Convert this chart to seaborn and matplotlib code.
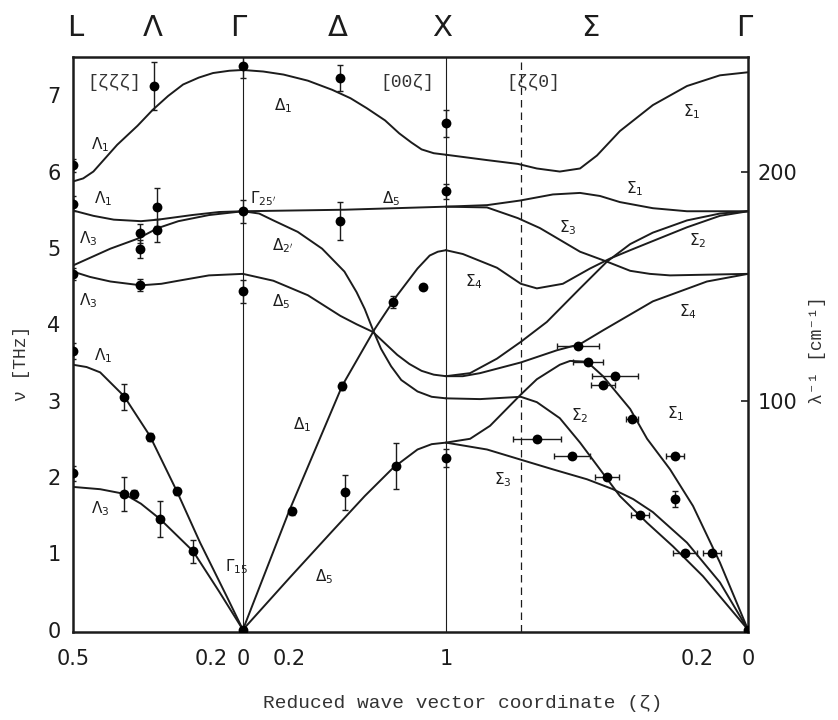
import numpy as np
import pandas as pd
import matplotlib
matplotlib.use("Agg")
import matplotlib.pyplot as plt
import matplotlib.transforms as mtransforms
import seaborn as sns

# --- layout of the composite wave-vector axis (Gamma-X has length 1) ---
LAM_SCALE = 1.674    # axis length per unit zeta along [zzz]
SIG_SCALE = 1.488    # axis length per unit zeta along [zz0]
K_ZETA = 0.75        # dashed line on the [zz0] segment
THZ_TO_CM = 33.356

# --- dispersion curves: zeta and frequency (THz) ---
# [zzz] direction, L (0.5) -> Gamma (0)
lam_lo_z = [0.5, 0.47, 0.44, 0.37, 0.31, 0.265, 0.22, 0.176, 0.13, 0.088, 0.04, 0]
lam_lo_v = [5.87, 5.91, 6.0, 6.35, 6.6, 6.81, 6.99, 7.14, 7.23, 7.29, 7.32, 7.33]
lam_r1_z = [0.5, 0.44, 0.38, 0.3, 0.25, 0.15, 0.07, 0]
lam_r1_v = [5.49, 5.42, 5.37, 5.35, 5.37, 5.43, 5.47, 5.48]
lam_r3_z = [0.5, 0.45, 0.39, 0.31, 0.25, 0.19, 0.1, 0]
lam_r3_v = [4.77, 4.87, 4.99, 5.12, 5.26, 5.35, 5.43, 5.48]
lam_to_z = [0.5, 0.45, 0.39, 0.3, 0.24, 0.19, 0.1, 0]
lam_to_v = [4.69, 4.62, 4.56, 4.51, 4.53, 4.57, 4.64, 4.66]
lam_la_z = [0.5, 0.46, 0.42, 0.35, 0.274, 0.194, 0.126, 0.047, 0]
lam_la_v = [3.47, 3.44, 3.37, 3.06, 2.54, 1.81, 1.14, 0.43, 0]
lam_ta_z = [0.5, 0.42, 0.35, 0.3, 0.244, 0.147, 0.07, 0]
lam_ta_v = [1.87, 1.84, 1.78, 1.65, 1.45, 1.03, 0.5, 0]

# [00z] direction, Gamma (0) -> X (1)
del_lo_z = [0, 0.1, 0.2, 0.32, 0.44, 0.53, 0.61, 0.7, 0.77, 0.83, 0.88, 0.94, 1]
del_lo_v = [7.33, 7.31, 7.27, 7.19, 7.07, 6.96, 6.83, 6.67, 6.5, 6.38, 6.29, 6.24, 6.22]
del_r5_z = [0, 0.25, 0.5, 0.75, 1]
del_r5_v = [5.48, 5.49, 5.5, 5.52, 5.54]
del_r2_z = [0, 0.08, 0.15, 0.27, 0.39, 0.5, 0.56, 0.6, 0.64, 0.68, 0.73, 0.78, 0.86, 0.93, 1]
del_r2_v = [5.48, 5.45, 5.36, 5.21, 4.99, 4.69, 4.42, 4.2, 3.93, 3.68, 3.45, 3.27, 3.12, 3.05, 3.03]
del_to_z = [0, 0.15, 0.32, 0.48, 0.56, 0.64, 0.7, 0.76, 0.82, 0.88, 0.94, 1]
del_to_v = [4.66, 4.57, 4.38, 4.11, 4.0, 3.9, 3.75, 3.6, 3.48, 3.39, 3.34, 3.32]
del_la_z = [0, 0.227, 0.49, 0.65, 0.76, 0.86, 0.92, 0.96, 1]
del_la_v = [0, 1.55, 3.2, 3.94, 4.38, 4.73, 4.9, 4.95, 4.97]
del_ta_z = [0, 0.23, 0.44, 0.6, 0.74, 0.86, 0.93, 1]
del_ta_v = [0, 0.68, 1.29, 1.75, 2.12, 2.36, 2.43, 2.45]

# [zz0] direction, X (1) -> Gamma (0)
sig_lo_z = [1, 0.864, 0.762, 0.699, 0.623, 0.556, 0.5, 0.424, 0.315, 0.202, 0.093, 0]
sig_lo_v = [6.22, 6.15, 6.1, 6.04, 6.0, 6.04, 6.21, 6.53, 6.87, 7.12, 7.26, 7.3]
sig_h1_z = [1, 0.864, 0.755, 0.646, 0.556, 0.49, 0.424, 0.315, 0.202, 0]
sig_h1_v = [5.54, 5.56, 5.62, 5.7, 5.72, 5.68, 5.6, 5.52, 5.48, 5.48]
sig_h3_z = [1, 0.864, 0.762, 0.689, 0.646, 0.556, 0.467, 0.39, 0.325, 0.258, 0]
sig_h3_v = [5.54, 5.53, 5.39, 5.26, 5.16, 4.95, 4.82, 4.7, 4.66, 4.64, 4.66]
sig_u4_z = [1, 0.944, 0.831, 0.752, 0.699, 0.613, 0.523, 0.457, 0.39, 0.315, 0.202, 0.093, 0]
sig_u4_v = [4.97, 4.92, 4.74, 4.53, 4.47, 4.53, 4.73, 4.86, 4.97, 5.09, 5.27, 5.42, 5.48]
sig_u2_z = [1, 0.92, 0.831, 0.752, 0.666, 0.556, 0.467, 0.39, 0.315, 0.202, 0.093, 0]
sig_u2_v = [3.32, 3.36, 3.55, 3.77, 4.03, 4.47, 4.82, 5.05, 5.2, 5.36, 5.45, 5.48]
sig_l4_z = [1, 0.944, 0.887, 0.752, 0.632, 0.556, 0.48, 0.315, 0.136, 0]
sig_l4_v = [3.32, 3.32, 3.36, 3.5, 3.66, 3.74, 3.92, 4.3, 4.56, 4.66]
sig_a2_z = [1, 0.887, 0.752, 0.699, 0.623, 0.556, 0.49, 0.424, 0.334, 0.248, 0.149, 0]
sig_a2_v = [3.03, 3.02, 3.05, 2.98, 2.77, 2.45, 2.1, 1.75, 1.4, 1.09, 0.7, 0]
sig_a1_z = [1, 0.92, 0.854, 0.752, 0.699, 0.623, 0.589, 0.533, 0.48, 0.39, 0.334, 0.258, 0.182, 0.093, 0]
sig_a1_v = [2.45, 2.5, 2.67, 3.08, 3.28, 3.47, 3.52, 3.51, 3.32, 2.89, 2.5, 2.1, 1.62, 0.88, 0]
sig_a3_z = [1, 0.864, 0.755, 0.646, 0.533, 0.447, 0.38, 0.315, 0.202, 0.093, 0]
sig_a3_v = [2.45, 2.36, 2.23, 2.1, 1.97, 1.84, 1.71, 1.54, 1.14, 0.62, 0]

# --- measured points ---
lam_pts_z = [0.5, 0.263, 0.5, 0.253, 0.303, 0.303, 0.253, 0.303, 0.5, 0.5, 0.35, 0.274, 0.194,
             0.5, 0.35, 0.32, 0.244, 0.147]
lam_pts_v = [6.08, 7.12, 5.58, 5.54, 5.19, 4.99, 5.23, 4.51, 4.66, 3.65, 3.05, 2.52, 1.81,
             2.05, 1.78, 1.78, 1.45, 1.03]
lam_pts_e = [0.08, 0.32, 0.1, 0.25, 0.12, 0.12, 0.15, 0.08, 0.08, 0.1, 0.17, 0.05, 0.05,
             0.1, 0.22, 0.05, 0.23, 0.15]

del_pts_z = [0, 0, 0, 0, 0.478, 0.478, 1, 1, 1, 0.887, 0.74, 0.49, 0.24, 0.502, 0.754]
del_pts_v = [7.38, 5.48, 4.43, 0, 7.22, 5.35, 6.63, 5.74, 2.25, 4.49, 4.29, 3.19, 1.55, 1.8, 2.14]
del_pts_e = [0.15, 0.15, 0.15, 0, 0.17, 0.25, 0.18, 0.1, 0.12, 0, 0.08, 0.05, 0.05, 0.23, 0.3]

sig_pts_z = [0.563, 0.53, 0.44, 0.48, 0.384, 0.699, 0.583, 0.467, 0.242, 0.242, 0.358, 0.209, 0.119, 0]
sig_pts_v = [3.72, 3.5, 3.32, 3.2, 2.76, 2.5, 2.27, 2.0, 2.27, 1.71, 1.5, 1.0, 1.0, 0]
sig_pts_xe = [0.07, 0.05, 0.075, 0.04, 0.02, 0.08, 0.06, 0.04, 0.03, 0, 0.03, 0.04, 0.03, 0]
sig_pts_ye = [0, 0, 0, 0, 0, 0, 0, 0, 0, 0.1, 0, 0, 0, 0]

# --- text ---
sym_labels = ["L", "Λ", "Γ", "Δ", "X", "Σ", "Γ"]
sym_pos = [-0.828, -0.443, -0.025, 0.468, 0.98, 1.71, 2.47]
dir_labels = [("[ζζζ]", -0.635), ("[00ζ]", 0.81), ("[ζζ0]", 1.43)]
xtick_labels = ["0.5", "0.2", "0", "0.2", "1", "0.2", "0"]
branch_labels = [
    (r"$\Lambda_1$", -0.704, 6.35), (r"$\Lambda_1$", -0.69, 5.65), (r"$\Lambda_3$", -0.763, 5.12),
    (r"$\Lambda_3$", -0.763, 4.31), (r"$\Lambda_1$", -0.69, 3.59), (r"$\Lambda_3$", -0.704, 1.58),
    (r"$\Delta_1$", 0.197, 6.86), (r"$\Gamma_{25'}$", 0.1, 5.65), (r"$\Delta_5$", 0.73, 5.65),
    (r"$\Delta_{2'}$", 0.197, 5.03), (r"$\Delta_5$", 0.19, 4.3), (r"$\Delta_1$", 0.29, 2.69),
    (r"$\Delta_5$", 0.4, 0.7), (r"$\Gamma_{15}$", -0.03, 0.83),
    (r"$\Sigma_1$", 2.21, 6.79), (r"$\Sigma_1$", 1.93, 5.78), (r"$\Sigma_3$", 1.6, 5.26),
    (r"$\Sigma_2$", 2.24, 5.09), (r"$\Sigma_4$", 1.14, 4.56), (r"$\Sigma_4$", 2.19, 4.17),
    (r"$\Sigma_2$", 1.66, 2.8), (r"$\Sigma_1$", 2.13, 2.83), (r"$\Sigma_3$", 1.28, 1.97),
]


def s_lam(z):
    return -LAM_SCALE * np.asarray(z, dtype=float)


def s_del(z):
    return np.asarray(z, dtype=float)


def s_sig(z):
    return 1 + SIG_SCALE * (1 - np.asarray(z, dtype=float))


branches = [
    ("lam_lo", s_lam, lam_lo_z, lam_lo_v), ("lam_r1", s_lam, lam_r1_z, lam_r1_v),
    ("lam_r3", s_lam, lam_r3_z, lam_r3_v), ("lam_to", s_lam, lam_to_z, lam_to_v),
    ("lam_la", s_lam, lam_la_z, lam_la_v), ("lam_ta", s_lam, lam_ta_z, lam_ta_v),
    ("del_lo", s_del, del_lo_z, del_lo_v), ("del_r5", s_del, del_r5_z, del_r5_v),
    ("del_r2", s_del, del_r2_z, del_r2_v), ("del_to", s_del, del_to_z, del_to_v),
    ("del_la", s_del, del_la_z, del_la_v), ("del_ta", s_del, del_ta_z, del_ta_v),
    ("sig_lo", s_sig, sig_lo_z, sig_lo_v), ("sig_h1", s_sig, sig_h1_z, sig_h1_v),
    ("sig_h3", s_sig, sig_h3_z, sig_h3_v), ("sig_u4", s_sig, sig_u4_z, sig_u4_v),
    ("sig_u2", s_sig, sig_u2_z, sig_u2_v), ("sig_l4", s_sig, sig_l4_z, sig_l4_v),
    ("sig_a2", s_sig, sig_a2_z, sig_a2_v), ("sig_a1", s_sig, sig_a1_z, sig_a1_v),
    ("sig_a3", s_sig, sig_a3_z, sig_a3_v),
]
rows = []
for name, fn, z, v in branches:
    for s, nu in zip(fn(z), v):
        rows.append({"branch": name, "s": s, "nu": nu})
curves = pd.DataFrame(rows)

pts = pd.concat([
    pd.DataFrame({"s": s_lam(lam_pts_z), "nu": lam_pts_v, "ye": lam_pts_e, "xe": 0.0}),
    pd.DataFrame({"s": s_del(del_pts_z), "nu": del_pts_v, "ye": del_pts_e, "xe": 0.0}),
    pd.DataFrame({"s": s_sig(sig_pts_z), "nu": sig_pts_v, "ye": sig_pts_ye,
                  "xe": np.asarray(sig_pts_xe) * SIG_SCALE}),
], ignore_index=True)

sns.set_style("white")
plt.rcParams["font.family"] = ["DejaVu Sans"]
plt.rcParams["mathtext.fontset"] = "dejavusans"
ink = "#1c1c1c"

fig = plt.figure(figsize=(8.38, 7.2), dpi=100)
ax = fig.add_axes([73 / 838, 1 - 632 / 720, 675 / 838, 575 / 720])

s_L = float(s_lam(0.5))
s_X = 1.0
s_G2 = float(s_sig(0))
s_K = float(s_sig(K_ZETA))

ax.axvline(0, color=ink, lw=0.8, zorder=1)
ax.axvline(s_X, color=ink, lw=0.8, zorder=1)
ax.axvline(s_K, color=ink, lw=0.9, ls=(0, (6, 4)), zorder=1)

sns.lineplot(data=curves, x="s", y="nu", units="branch", estimator=None, sort=False,
             color=ink, lw=1.4, legend=False, ax=ax, zorder=2)

ax.errorbar(pts["s"], pts["nu"], yerr=pts["ye"], xerr=pts["xe"], fmt="none",
            ecolor=ink, elinewidth=1.0, capsize=2.5, zorder=3)
sns.scatterplot(data=pts, x="s", y="nu", color="black", s=50, linewidth=0,
                legend=False, ax=ax, zorder=4)

ax.set_xlim(s_L, s_G2)
ax.set_ylim(-0.03, 7.5)

# x ticks: labels where the figure prints them, small inward marks every step
major_pos = [s_L, -0.158, 0, 0.23, s_X, 2.24, s_G2]
ax.set_xticks(major_pos, xtick_labels)
minor_pos = list(s_lam([0.4, 0.3, 0.2, 0.1])) + list(s_del([0.2, 0.4, 0.6, 0.8])) \
    + list(s_sig([0.8, 0.6, 0.4, 0.2]))
ax.set_xticks(minor_pos, minor=True)
ax.tick_params(axis="x", which="major", length=0, pad=12, labelsize=15, colors=ink)
ax.tick_params(axis="x", which="minor", direction="in", length=5, width=1.2, color=ink)

ax.set_yticks(range(8))
ax.tick_params(axis="y", which="major", direction="in", length=5, width=1.2,
               pad=9, labelsize=15, colors=ink)

sec = ax.secondary_yaxis("right", functions=(lambda v: v * THZ_TO_CM, lambda w: w / THZ_TO_CM))
sec.set_yticks([100, 200])
sec.tick_params(direction="in", length=5, width=1.2, pad=7, labelsize=15, colors=ink)
sec.spines["right"].set_visible(False)

for side in ["left", "right", "top", "bottom"]:
    ax.spines[side].set_visible(True)
    ax.spines[side].set_color(ink)
    ax.spines[side].set_linewidth(1.8)
ax.set_xlabel("")
ax.set_ylabel("")

mono = ["Liberation Mono", "DejaVu Sans Mono"]
fig.text(463 / 838, 1 - 703 / 720, "Reduced wave vector coordinate (ζ)", ha="center",
         va="center", fontsize=14, family=mono, color="#333333")
fig.text(22 / 838, 1 - 363 / 720, "ν [THz]", rotation=90, ha="center", va="center",
         fontsize=13, family=mono, color="#333333")
fig.text(817 / 838, 1 - 350 / 720, "λ⁻¹ [cm⁻¹]", rotation=90, ha="center", va="center",
         fontsize=13, family=mono, color="#333333")

top = mtransforms.blended_transform_factory(ax.transData, fig.transFigure)
for txt, sx in zip(sym_labels, sym_pos):
    ax.text(sx, 1 - 28 / 720, txt, transform=top, ha="center", va="center",
            fontsize=21, color=ink)

for txt, sx in dir_labels:
    ax.text(sx, 7.16, txt, ha="center", va="center", fontsize=13, family=mono, color="#333333")

for txt, sx, nu in branch_labels:
    ax.text(sx, nu, txt, ha="center", va="center", fontsize=11, color=ink)

fig.savefig("out.png", dpi=100, facecolor="white")
